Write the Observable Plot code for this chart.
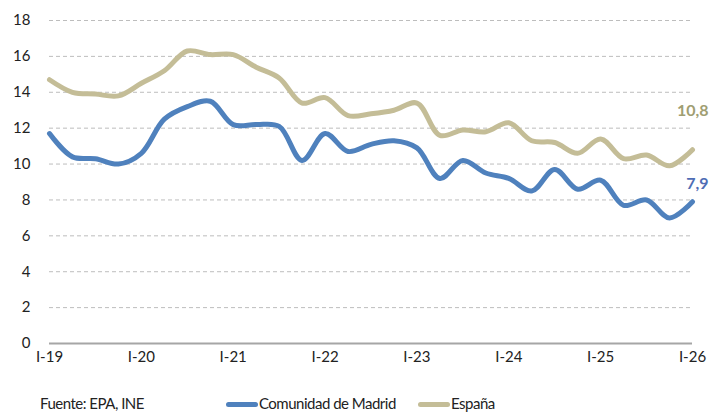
<!DOCTYPE html>
<html>
<head>
<meta charset="utf-8">
<script src="https://cdn.jsdelivr.net/npm/d3@7"></script>
<script src="https://cdn.jsdelivr.net/npm/@observablehq/plot@0.6"></script>
<style>
  body { margin: 0; background: #fff; font-family: Lato, "Open Sans", sans-serif; }
  #chart { position: relative; width: 710px; height: 414px; overflow: hidden; }
  #legend { position: absolute; left: 0; top: 394px; width: 710px; height: 20px; font-size: 15px; color: #222; }
  #legend span { position: absolute; top: 0; white-space: nowrap; letter-spacing: -0.5px; }
  .sw { display: inline-block; width: 32px; height: 5px; border-radius: 3px; vertical-align: middle; margin-right: 1px; position: relative; top: -1px; }
</style>
</head>
<body>
<div id="chart"></div>
<script>
// Quarterly unemployment rate (%), I-19 .. I-26
const quarters = d3.range(29); // 0 = I-19, 4 = I-20, ... 28 = I-26
const madrid = [11.7, 10.4, 10.3, 10.0, 10.6, 12.5, 13.2, 13.5,
                12.2, 12.2, 12.1, 10.2, 11.7, 10.7, 11.1,
                11.3, 10.9, 9.2, 10.2, 9.5, 9.2, 8.5,
                9.7, 8.6, 9.1, 7.7, 8.0, 7.0, 7.9];
const espana = [14.7, 14.0, 13.9, 13.8, 14.5, 15.2, 16.3, 16.1,
                16.1, 15.4, 14.8, 13.4, 13.7, 12.7, 12.8,
                13.0, 13.4, 11.6, 11.9, 11.8, 12.3, 11.3,
                11.2, 10.6, 11.4, 10.3, 10.5, 9.9, 10.8];
const tickQuarters = [0, 4, 8, 12, 16, 20, 24, 28];
const tickLabels = ["I-19", "I-20", "I-21", "I-22", "I-23", "I-24", "I-25", "I-26"];
const yTicks = [0, 2, 4, 6, 8, 10, 12, 14, 16, 18];
const seriesNames = ["Comunidad de Madrid", "España"];
const seriesColors = ["#4f81bd", "#c4bd97"];
const labelColors = ["#4f6db5", "#a09e72"];
const source = "Fuente: EPA, INE";

const rows = [];
quarters.forEach((q, i) => {
  rows.push({q, v: madrid[i], s: seriesNames[0]});
  rows.push({q, v: espana[i], s: seriesNames[1]});
});
const last = quarters.length - 1;
const endLabels = [
  {q: quarters[last], v: madrid[last], s: seriesNames[0], t: madrid[last].toFixed(1).replace(".", ",")},
  {q: quarters[last], v: espana[last], s: seriesNames[1], t: espana[last].toFixed(1).replace(".", ",")}
];

const plot = Plot.plot({
  width: 710,
  height: 372,
  marginLeft: 49,
  marginRight: 18,
  marginTop: 20,
  marginBottom: 29,
  style: {fontFamily: "Lato, 'Open Sans', sans-serif", fontSize: "15px", color: "#222", background: "#fff"},
  x: {domain: [0, 28], ticks: tickQuarters, tickFormat: d => tickLabels[tickQuarters.indexOf(d)], tickSize: 0, tickPadding: 8, label: null},
  y: {domain: [0, 18], ticks: yTicks, tickSize: 0, tickPadding: 19, label: null},
  color: {domain: seriesNames, range: seriesColors},
  marks: [
    Plot.ruleY(yTicks.filter(d => d > 0), {stroke: "#bdbdbd", strokeWidth: 1, strokeDasharray: "4,3"}),
    Plot.ruleY([0], {stroke: "#a6a6a6", strokeWidth: 2}),
    Plot.line(rows, {x: "q", y: "v", z: "s", stroke: "s", strokeWidth: 5, curve: "catmull-rom", strokeLinecap: "round"}),
    Plot.text(endLabels.filter(d => d.s === seriesNames[1]), {x: "q", y: "v", text: "t", fill: labelColors[1], fontWeight: "bold", fontSize: 16, textAnchor: "end", dx: 16, dy: -39}),
    Plot.text(endLabels.filter(d => d.s === seriesNames[0]), {x: "q", y: "v", text: "t", fill: labelColors[0], fontWeight: "bold", fontSize: 16, textAnchor: "end", dx: 16, dy: -18})
  ]
});
const chart = document.getElementById("chart");
chart.appendChild(plot);

const legend = document.createElement("div");
legend.id = "legend";
legend.innerHTML =
  `<span style="left:40px">${source}</span>` +
  `<span style="left:226px"><i class="sw" style="background:${seriesColors[0]}"></i>${seriesNames[0]}</span>` +
  `<span style="left:418px"><i class="sw" style="background:${seriesColors[1]}"></i>${seriesNames[1]}</span>`;
chart.appendChild(legend);
</script>
</body>
</html>
